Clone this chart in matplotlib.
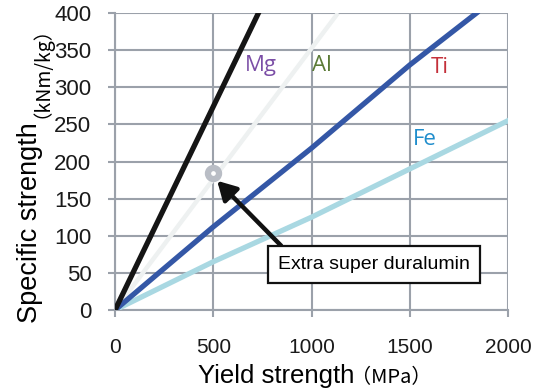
import matplotlib
matplotlib.use("Agg")
import matplotlib.pyplot as plt

# data (yield strength MPa, specific strength kNm/kg)
mg_x = [0, 730]
mg_y = [0, 400]
al_x = [0, 1135]
al_y = [0, 400]
ti_x = [0, 500, 1000, 1500, 1840]
ti_y = [0, 112, 218, 330, 400]
fe_x = [0, 500, 1000, 1500, 2000]
fe_y = [0, 65, 125, 190, 255]
esd_x = [500]
esd_y = [185]

xticks = [0, 500, 1000, 1500, 2000]
yticks = [0, 50, 100, 150, 200, 250, 300, 350, 400]

W, H = 545, 389
fig = plt.figure(figsize=(W / 100, H / 100), dpi=100)
ax = fig.add_axes([115 / W, 79 / H, 393 / W, 297 / H])

grid_c = '#9ba1aa'
ax.set_xlim(0, 2000)
ax.set_ylim(0, 400)
ax.set_xticks(xticks)
ax.set_yticks(yticks)
ax.grid(True, color=grid_c, lw=1.5)
ax.set_axisbelow(True)
for s in ['top', 'right']:
    ax.spines[s].set_visible(False)
for s in ['left', 'bottom']:
    ax.spines[s].set_color(grid_c)
    ax.spines[s].set_linewidth(1.5)
ax.tick_params(colors=grid_c, width=1.5, length=5, labelcolor='#1a1a1a')
ax.tick_params(axis='y', labelsize=16, pad=12)
ax.tick_params(axis='x', labelsize=15, pad=15)
for lab in ax.get_xticklabels() + ax.get_yticklabels():
    lab.set_family('Liberation Sans')

ax.plot(al_x, al_y, color='#eef1f1', lw=3.2, solid_capstyle='butt', zorder=3)
ax.plot(fe_x, fe_y, color='#a9d8e2', lw=3.8, zorder=3)
ax.plot(ti_x, ti_y, color='#3457a6', lw=3.8, zorder=4)
ax.plot(mg_x, mg_y, color='#151515', lw=3.8, zorder=5)
ax.plot(esd_x, esd_y, 'o', ms=8, mfc='white', mec='#b9bdc5', mew=4.5, zorder=6)

lab_kw = dict(fontsize=16, family='Open Sans', ha='center', va='center')
ax.text(743, 329, 'Mg', color='#7b4ea6', **lab_kw)
ax.text(1053, 329, 'Al', color='#5b7a36', **lab_kw)
ax.text(1654, 326, 'Ti', color='#c4303a', **lab_kw)
ax.text(1578, 229, 'Fe', color='#1f8dcc', **lab_kw)

ax.annotate('Extra super duralumin', xy=(520, 174), xytext=(1318, 61),
            fontsize=14, family='Liberation Sans',
            ha='center', va='center', zorder=7,
            bbox=dict(boxstyle='square,pad=0.5', fc='white', ec='#111111', lw=1.6),
            arrowprops=dict(arrowstyle='-|>,head_length=0.8,head_width=0.45',
                            color='#111111', lw=3.2, shrinkA=0, shrinkB=0,
                            relpos=(0.07, 1.0)))

# axis titles, main words larger than the units as in the reference
fig.text(198 / W, 1 - 383 / H, 'Yield strength', fontsize=18.5,
         family='Liberation Sans', ha='left', va='baseline')
fig.text(351 / W, 1 - 383 / H, '（MPa）', fontsize=14.5,
         family=['Noto Sans CJK JP', 'DejaVu Sans'], ha='left', va='baseline')
fig.text(37 / W, 1 - 323 / H, 'Specific strength', fontsize=19.5,
         family='Liberation Sans', rotation=90, rotation_mode='anchor',
         ha='left', va='baseline')
fig.text(37 / W, 1 - 118 / H, '（kNm/kg）', fontsize=14,
         family=['Noto Sans CJK JP', 'DejaVu Sans'], rotation=90,
         rotation_mode='anchor', ha='left', va='baseline')

fig.savefig('out.png', dpi=100)
